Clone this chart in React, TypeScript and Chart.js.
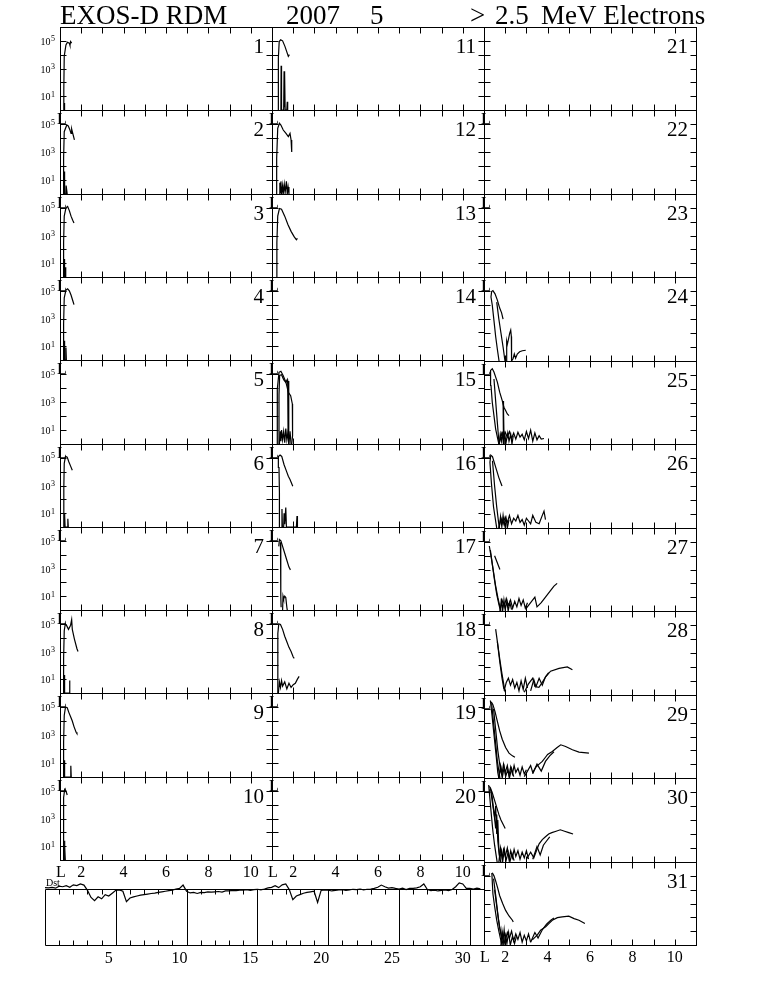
import React, { useEffect, useRef } from "react";
import { Chart, registerables } from "chart.js";
Chart.register(...registerables);

// ---------- data ----------
const titleTexts = ["EXOS-D RDM", "2007", "5", ">", "2.5", "MeV Electrons"];
const lTickValues = [2, 3, 4, 5, 6, 7, 8, 9, 10];
const lLabelValues = [1, 2, 4, 6, 8, 10];
const lLabelTexts = ["L", "2", "4", "6", "8", "10"];
const fluxTickExps = [1, 2, 3, 4, 5];
const fluxLabelExps = [5, 3, 1];
const dstLabelDays = [5, 10, 15, 20, 25, 30];
const dstSeparatorDays = [6, 11, 16, 21, 26, 31];
const dstTickDays = [2,3,4,5,6,7,8,9,10,11,12,13,14,15,16,17,18,19,20,21,22,23,24,25,26,27,28,29,30,31];

// Dst (nT), 4 samples per day, May 1..31
const dstValues = [
  5, 4, 6, 3, 10, 8, 12, 6, 15, 12, 18, 14, -5, -30, -42, -28,
  -35, -20, -25, -15, -5, -3, -8, -45, -32, -28, -25, -22, -20, -18, -16, -15,
  -12, -10, -8, -6, -4, 0, 2, 14, -8, -14, -12, -16, -12, -13, -10, -11,
  -10, -9, -11, -7, -7, -5, -6, -4, -4, -2, -5, -2, -1, -3, 0, 4,
  6, 12, 5, 15, 18, -2, -38, -25, -20, -15, -12, -10, -8, -48, -5, -3,
  -4, -7, -5, -3, -2, -5, -3, -1, -2, 0, -3, -1, 0, 2, 6, 14,
  8, 3, 5, 2, 0, 3, -2, 2, 2, 4, 8, 18, -2, -6, -4, -7,
  -5, -3, -6, -2, 8, 22, 18, 2, 2, 0, 3, 1,
];

// flux traces per day: [L, log10(flux)]
const day01 = [
  [[1.16,0],[1.18,1.5],[1.2,3.9],[1.28,4.7],[1.35,4.9],[1.44,4.83],[1.47,4.67],[1.5,4.95],[1.55,4.83]],
  [[1.2,0],[1.21,0.5],[1.22,0]],
];
const day02 = [
  [[1.16,0],[1.17,2.55],[1.2,4.45],[1.32,4.93],[1.39,4.86],[1.47,4.57],[1.52,4.33],[1.55,4.64],[1.68,3.86]],
  [[1.19,0],[1.2,1.6],[1.22,1.2],[1.23,0],[1.28,0],[1.29,0.6],[1.33,0.6],[1.34,0]],
];
const day03 = [
  [[1.16,0],[1.17,2.5],[1.2,4.4],[1.28,5.0],[1.36,5.1],[1.44,4.8],[1.52,4.4],[1.6,4.1],[1.66,3.9]],
  [[1.18,0],[1.19,1.3],[1.21,1.1],[1.22,0],[1.25,0],[1.26,0.7],[1.28,0]],
];
const day04 = [
  [[1.16,0],[1.17,2.6],[1.2,4.5],[1.28,5.05],[1.36,5.15],[1.44,5.0],[1.52,4.7],[1.6,4.3],[1.66,4.0]],
  [[1.19,0],[1.2,1.4],[1.22,0.8],[1.23,0],[1.27,0],[1.28,0.9],[1.3,0]],
];
const day05: number[][][] = [];
const day06 = [
  [[1.17,0],[1.18,2.8],[1.2,4.6],[1.26,5.1],[1.34,5.05],[1.42,4.7],[1.5,4.4],[1.58,4.1]],
  [[1.2,0],[1.21,1.0],[1.23,0.8],[1.24,0],[1.36,0],[1.37,0.6],[1.39,0]],
];
const day07: number[][][] = [];
const day08 = [
  [[1.16,0],[1.17,2.5],[1.2,4.5],[1.25,5.0],[1.32,4.85],[1.4,4.6],[1.5,4.9],[1.55,5.3],[1.58,4.6],[1.68,3.9],[1.8,3.2],[1.85,3.0]],
  [[1.19,0],[1.2,1.3],[1.22,1.0],[1.23,0],[1.44,0],[1.45,0.9],[1.47,0]],
];
const day09 = [
  [[1.16,0],[1.17,2.5],[1.2,4.4],[1.26,5.0],[1.34,4.95],[1.42,4.6],[1.5,4.3],[1.58,4.0],[1.66,3.6],[1.76,3.2],[1.8,3.1]],
  [[1.19,0],[1.2,1.2],[1.22,0.9],[1.23,0],[1.5,0],[1.51,0.8],[1.53,0]],
];
const day10 = [
  [[1.15,0],[1.16,2.5],[1.18,4.5],[1.22,5.1],[1.28,5.0],[1.34,4.7]],
  [[1.2,0],[1.21,1.4],[1.23,1.0],[1.25,0]],
];
const day11 = [
  [[1.3,0],[1.3,3.76],[1.34,4.95],[1.41,5.07],[1.5,5.0],[1.61,4.6],[1.69,4.24],[1.77,3.88],[1.82,4.0]],
  [[1.42,0],[1.43,3.2],[1.45,0],[1.55,0],[1.57,2.8],[1.59,0.2],[1.6,2.6],[1.62,0],[1.7,0],[1.72,0.6],[1.74,0]],
];
const day12 = [
  [[1.22,0],[1.22,2.55],[1.27,4.69],[1.35,5.05],[1.42,4.93],[1.53,4.57],[1.66,4.33],[1.77,4.1],[1.85,4.33],[1.9,3.86],[1.93,3.0]],
  [[1.35,0],[1.37,0.8],[1.39,0.1],[1.42,0.9],[1.45,0],[1.5,0.6],[1.53,0],[1.58,0.7],[1.62,0.1],[1.68,0.9],[1.72,0],[1.76,0.5],[1.8,0]],
];
const day13 = [
  [[1.22,0],[1.23,2.5],[1.27,4.4],[1.35,4.95],[1.45,4.9],[1.6,4.4],[1.75,3.8],[1.9,3.3],[2.05,2.9],[2.15,2.7],[2.2,2.8]],
];
const day14: number[][][] = [];
const day15 = [
  [[1.25,0],[1.25,3.93],[1.33,5.12],[1.42,5.19],[1.53,4.88],[1.66,4.4],[1.77,3.69],[1.88,3.45],[1.96,2.86],[1.98,2.0],[1.96,0.6],[1.93,0]],
  [[1.32,0],[1.33,3.5],[1.36,4.9],[1.45,4.95],[1.55,4.6],[1.65,4.4],[1.72,4.6],[1.74,4.3],[1.76,0.5],[1.78,4.5],[1.8,0]],
  [[1.35,0],[1.38,0.9],[1.42,0.2],[1.45,1.0],[1.5,0.3],[1.55,0.9],[1.6,0.1],[1.65,1.1],[1.7,0.3],[1.75,0.8],[1.8,0.1],[1.85,0.9],[1.9,0]],
];
const day16 = [
  [[1.34,0],[1.35,2.5],[1.33,4.3],[1.3,5.1],[1.38,5.2],[1.46,5.1],[1.57,4.5],[1.69,4.0],[1.77,3.67],[1.85,3.43],[1.98,2.95]],
  [[1.45,0],[1.47,1.3],[1.49,0],[1.55,0],[1.57,1.0],[1.6,0.2],[1.65,1.4],[1.68,0],[2.15,0],[2.18,0.8],[2.2,0]],
];
const day17 = [
  [[1.32,4.6],[1.35,5.1],[1.42,5.0],[1.5,4.6],[1.6,4.1],[1.7,3.6],[1.8,3.1],[1.87,2.9]],
  [[1.4,4.9],[1.41,2.5],[1.42,1.0],[1.43,0.2]],
  [[1.5,0],[1.52,1.0],[1.55,0.8],[1.6,1.0],[1.65,0.9],[1.7,0.2],[1.72,0]],
];
const day18 = [
  [[1.26,0],[1.27,2.5],[1.28,4.3],[1.32,5.0],[1.4,4.95],[1.5,4.6],[1.6,4.1],[1.7,3.7],[1.8,3.3],[1.9,3.0],[2.0,2.6],[2.05,2.5]],
  [[1.3,0],[1.35,0.8],[1.4,0.4],[1.45,0.9],[1.5,0.5],[1.6,0.8],[1.7,0.3],[1.8,0.7],[1.9,0.4],[2.0,0.6],[2.1,0.7],[2.2,1.0],[2.28,1.2]],
];
const day19: number[][][] = [];
const day20: number[][][] = [];
const day21: number[][][] = [];
const day22: number[][][] = [];
const day23: number[][][] = [];
const day24 = [
  [[1.71,0],[1.63,0.84],[1.55,1.75],[1.47,2.88],[1.39,4.0],[1.33,4.57],[1.36,4.96],[1.42,5.03],[1.52,4.8],[1.63,4.35],[1.74,3.78],[1.83,3.44],[1.9,2.99]],
  [[1.6,4.2],[1.7,3.0],[1.8,2.0],[1.9,1.0],[1.99,0]],
  [[2.05,0],[2.07,1.4],[2.1,1.18],[2.15,1.52],[2.21,1.97],[2.26,2.2],[2.29,1.75],[2.3,0],[2.37,0.16],[2.43,0.5],[2.49,0.2],[2.57,0.5],[2.68,0.66],[2.81,0.73],[2.97,0.77]],
];
const day25 = [
  [[1.7,0],[1.55,1.08],[1.39,3.02],[1.33,4.23],[1.31,5.32],[1.39,5.44],[1.47,5.2],[1.63,4.47],[1.74,3.75],[1.86,3.14],[1.94,2.66],[2.02,2.42],[2.1,2.17],[2.18,2.05]],
  [[1.47,4.7],[1.58,2.5],[1.71,0]],
  [[1.9,3.1],[1.91,0],[1.93,2.5],[1.95,0]],
  [[1.72,0],[1.8,0.8],[1.9,0.4],[2.0,0.85],[2.1,0.5],[2.2,0.9],[2.3,0.4],[2.4,0.8],[2.5,0.35],[2.6,0.85],[2.7,0.5],[2.8,0.7],[2.9,0.3],[3.0,0.9],[3.1,0.4],[3.2,1.0],[3.3,0.2],[3.4,0.8],[3.5,0.3],[3.6,0.6],[3.7,0.35],[3.83,0.4]],
  [[1.72,0],[1.76,0.6],[1.82,0.2],[1.86,0.9],[1.92,0],[1.98,0.7],[2.04,0.1],[2.12,0.8],[2.18,0.2],[2.26,0.7],[2.32,0],[2.38,0.6]],
];
const day26 = [
  [[1.6,0],[1.45,1.5],[1.35,3.2],[1.28,4.7],[1.32,5.2],[1.4,5.1],[1.5,4.6],[1.6,4.1],[1.7,3.6],[1.8,3.2],[1.85,3.0]],
  [[1.4,4.8],[1.5,3.0],[1.6,1.5],[1.72,0]],
  [[1.7,0],[1.8,0.7],[1.9,0.3],[2.0,0.8],[2.1,0.4],[2.2,0.9],[2.3,0.3],[2.4,0.7],[2.5,0.5],[2.6,0.9],[2.7,0.4],[2.8,0.6],[2.9,0.2],[3.0,0.7],[3.1,0.5],[3.2,0.3],[3.3,0.9],[3.45,0.4],[3.6,0.3],[3.75,0.9],[3.83,1.2],[3.9,0.6]],
  [[1.72,0],[1.78,0.8],[1.84,0.1],[1.9,0.9],[1.96,0.2],[2.04,0.7],[2.1,0],[2.18,0.6]],
];
const day27 = [
  [[1.25,4.7],[1.35,3.8],[1.45,2.8],[1.55,1.8],[1.65,1.0],[1.75,0.3],[1.8,0]],
  [[1.5,4.0],[1.6,3.6],[1.7,3.2],[1.75,3.0]],
  [[1.3,4.4],[1.4,3.3],[1.5,2.2],[1.6,1.2],[1.7,0.5],[1.78,0]],
  [[1.75,0],[1.85,0.8],[1.95,0.3],[2.05,0.9],[2.15,0.4],[2.25,0.8],[2.35,0.2],[2.45,0.7],[2.55,0.3],[2.65,0.9],[2.75,0.4],[2.85,0.8],[2.95,0.2],[3.05,0.6]],
  [[1.78,0.1],[1.82,0.9],[1.88,0],[1.94,0.8],[2.0,0.1],[2.08,0.7],[2.14,0],[2.22,0.6],[2.3,0.1]],
  [[3.0,0.2],[3.2,0.6],[3.4,1.0],[3.5,0.3],[3.7,0.6],[3.9,1.0],[4.1,1.4],[4.3,1.8],[4.45,2.0]],
];
const day28 = [
  [[1.55,4.7],[1.65,3.6],[1.75,2.5],[1.85,1.5],[1.95,0.6],[2.0,0.2]],
  [[1.63,3.8],[1.75,2.3],[1.85,1.2],[1.94,0.4]],
  [[1.95,0.3],[2.05,0.9],[2.15,1.2],[2.25,0.7],[2.35,1.1],[2.45,0.5],[2.55,0.9],[2.65,0.3],[2.75,1.0],[2.85,0.4],[2.95,1.2],[3.05,0.5]],
  [[2.9,0.2],[3.1,0.8],[3.3,1.2],[3.4,0.6],[3.59,0.55],[3.75,0.9],[3.91,1.3],[4.14,1.7],[4.54,1.9],[4.93,2.0],[5.17,1.8]],
  [[3.2,0.3],[3.35,1.1],[3.45,0.6],[3.6,1.2],[3.75,0.7],[3.9,1.3],[4.05,1.6]],
];
const day29 = [
  [[1.34,5.5],[1.42,5.3],[1.52,4.8],[1.63,4.1],[1.74,3.4],[1.86,2.8],[2.02,2.2],[2.18,1.8],[2.34,1.6],[2.46,1.5]],
  [[1.36,5.4],[1.45,4.0],[1.55,2.5],[1.63,1.2],[1.7,0.5],[1.75,0]],
  [[1.45,5.0],[1.55,3.5],[1.65,2.0],[1.75,0.9],[1.85,0.2]],
  [[1.3,5.6],[1.38,4.5],[1.48,3.0],[1.58,1.5],[1.65,0.4],[1.7,0]],
  [[1.7,0],[1.78,0.9],[1.85,0.3],[1.92,1.0],[2.0,0.4],[2.1,0.9],[2.18,0.2],[2.26,0.8],[2.34,0.3],[2.42,0.9],[2.5,0.4],[2.6,0.7],[2.7,0.2],[2.8,0.8],[2.9,0.3],[3.0,0.6]],
  [[1.72,0.2],[1.8,0.7],[1.86,0],[1.95,0.8],[2.02,0.1],[2.12,0.6],[2.2,0],[2.3,0.7],[2.4,0.1]],
  [[2.9,0.1],[3.05,0.5],[3.2,0.9],[3.3,0.4],[3.45,0.8],[3.6,1.0],[3.75,1.2],[3.9,1.5],[4.0,1.7],[4.22,1.92],[4.45,2.2],[4.62,2.4],[4.85,2.28],[5.17,2.04],[5.48,1.87],[5.95,1.8]],
  [[3.3,0.3],[3.5,1.0],[3.7,0.5],[3.9,1.2],[4.1,1.6],[4.3,1.9]],
];
const day30 = [
  [[1.25,5.4],[1.3,5.3],[1.4,4.9],[1.5,4.4],[1.6,3.9],[1.7,3.4],[1.8,3.0],[1.9,2.7],[2.0,2.4]],
  [[1.22,5.5],[1.28,4.5],[1.35,3.3],[1.42,2.2],[1.5,1.2],[1.58,0.4],[1.62,0]],
  [[1.3,5.3],[1.4,4.2],[1.5,3.2],[1.55,4.0],[1.6,2.0],[1.65,3.0],[1.7,1.0],[1.75,0.2],[1.8,0]],
  [[1.35,5.1],[1.45,3.8],[1.55,2.4],[1.6,3.4],[1.65,1.5],[1.72,0.5],[1.78,0]],
  [[1.7,0],[1.78,1.0],[1.85,0.3],[1.92,0.9],[2.0,0.4],[2.1,1.0],[2.18,0.2],[2.26,0.8],[2.34,0.3],[2.42,0.9],[2.5,0.4],[2.6,0.8],[2.7,0.2],[2.8,0.7],[2.9,0.3],[3.0,0.8],[3.1,0.2]],
  [[1.74,0.2],[1.82,0.8],[1.88,0],[1.96,0.9],[2.04,0.1],[2.14,0.7],[2.22,0],[2.32,0.6],[2.42,0.1]],
  [[3.0,0.2],[3.2,0.7],[3.35,0.3],[3.5,0.9],[3.6,1.3],[3.75,1.6],[3.9,1.8],[4.05,2.0],[4.2,2.1],[4.4,2.2],[4.6,2.3],[4.8,2.2],[5.0,2.1],[5.2,2.0]],
  [[3.3,0.2],[3.5,1.1],[3.65,0.5],[3.8,1.2],[3.95,1.5],[4.1,1.8]],
];
const day31 = [
  [[1.39,5.22],[1.47,5.0],[1.55,4.63],[1.65,4.1],[1.74,3.56],[1.88,3.0],[2.02,2.5],[2.18,2.1],[2.34,1.79],[2.38,1.67]],
  [[1.37,5.2],[1.42,3.7],[1.5,2.8],[1.6,1.8],[1.7,1.0],[1.8,0.3],[1.85,0]],
  [[1.45,4.8],[1.55,3.6],[1.67,2.0],[1.75,1.2],[1.85,0.4]],
  [[1.5,4.0],[1.6,2.8],[1.72,1.4],[1.82,0.6],[1.9,0]],
  [[1.8,0],[1.85,1.0],[1.9,0.4],[1.95,1.1],[2.0,0.3],[2.1,0.9],[2.2,0.5],[2.3,1.0],[2.4,0.3],[2.5,0.8],[2.6,0.4],[2.7,0.9],[2.8,0.2],[2.9,0.7],[3.0,0.3],[3.1,0.8],[3.2,0.2]],
  [[1.82,0.2],[1.88,0.8],[1.94,0],[2.02,0.7],[2.08,0.1],[2.16,0.9],[2.24,0],[2.34,0.6],[2.44,0.1],[2.54,0.7]],
  [[3.28,0.37],[3.52,0.73],[3.67,1.08],[3.91,1.32],[4.07,1.56],[4.22,1.79],[4.46,1.98],[4.69,2.03],[5.0,2.08],[5.25,1.91],[5.48,1.79],[5.76,1.56]],
  [[3.2,0.2],[3.4,0.9],[3.55,0.5],[3.75,1.1],[3.95,1.5],[4.15,1.8],[4.3,1.95]],
];

const allDays = [
  day01, day02, day03, day04, day05, day06, day07, day08, day09, day10,
  day11, day12, day13, day14, day15, day16, day17, day18, day19, day20,
  day21, day22, day23, day24, day25, day26, day27, day28, day29, day30, day31,
];

// ---------- layout ----------
const FONT = "'Liberation Serif', 'Times New Roman', serif";
const COL_LEFT = [60, 272, 484];
const COL_W = 212;
const TOP0 = 27;
const ROW_STEP = [83.3, 83.3, 83.45];
const PAD = 32;
const TICK = 6;
const LINE_W = 1.2;
const rowTop = (col: number, r: number) => Math.round(TOP0 + r * ROW_STEP[col]);
const DST_BOX = { left: 45, right: 484, top: 889, bottom: 945 };
const TITLE_X = [60, 286, 370, 470, 495, 541];

function Title() {
  const ref = useRef<HTMLCanvasElement>(null);
  useEffect(() => {
    const ctx = ref.current!.getContext("2d")!;
    ctx.clearRect(0, 0, 761, 30);
    ctx.fillStyle = "#000";
    ctx.font = `27px ${FONT}`;
    ctx.textBaseline = "alphabetic";
    titleTexts.forEach((t, i) => ctx.fillText(t, TITLE_X[i], 24));
  }, []);
  return <canvas ref={ref} width={761} height={30} style={{ position: "absolute", left: 0, top: 0 }} />;
}

type PanelProps = { day: number; traces: number[][][]; col: number; row: number; lastRow: boolean };

function Panel({ day, traces, col, row, lastRow }: PanelProps) {
  const ref = useRef<HTMLCanvasElement>(null);
  const left = COL_LEFT[col];
  const top = rowTop(col, row);
  const bottom = rowTop(col, row + 1);
  const w = COL_W;
  const h = bottom - top;
  useEffect(() => {
    const framePlugin = {
      id: "frame" + day,
      afterDraw(chart: any) {
        const { ctx, chartArea: a, scales } = chart;
        const xs = scales.x;
        const ys = scales.y;
        const L = Math.round(a.left) + 0.5;
        const R = Math.round(a.right) + 0.5;
        const T = Math.round(a.top) + 0.5;
        const B = Math.round(a.bottom) + 0.5;
        ctx.save();
        ctx.strokeStyle = "#000";
        ctx.lineWidth = 1;
        ctx.strokeRect(L, T, R - L, B - T);
        ctx.beginPath();
        lTickValues.forEach((v) => {
          const px = Math.round(xs.getPixelForValue(v)) + 0.5;
          ctx.moveTo(px, T); ctx.lineTo(px, T + TICK);
          ctx.moveTo(px, B); ctx.lineTo(px, B - TICK);
        });
        fluxTickExps.forEach((k) => {
          const py = Math.round(ys.getPixelForValue(Math.pow(10, k))) + 0.5;
          ctx.moveTo(L, py); ctx.lineTo(L + TICK, py);
          ctx.moveTo(R, py); ctx.lineTo(R - TICK, py);
        });
        ctx.stroke();
        ctx.fillStyle = "#000";
        ctx.textBaseline = "alphabetic";
        // day number
        ctx.font = `21px ${FONT}`;
        ctx.textAlign = "right";
        ctx.fillText(String(day), a.right - 8, a.top + 26);
        // y labels
        if (col === 0) {
          fluxLabelExps.forEach((k) => {
            const py = ys.getPixelForValue(Math.pow(10, k));
            ctx.font = `8px ${FONT}`;
            ctx.textAlign = "right";
            const supW = ctx.measureText(String(k)).width;
            ctx.fillText(String(k), a.left - 5, py + 0.5);
            ctx.font = `10px ${FONT}`;
            ctx.fillText("10", a.left - 5 - supW - 0.5, py + 4);
          });
        }
        // top-left L
        if (row > 0) {
          ctx.font = `16px ${FONT}`;
          ctx.textAlign = "left";
          ctx.fillText("L", a.left - 3, a.top + 14);
        }
        // bottom x labels
        if (lastRow) {
          ctx.font = `16px ${FONT}`;
          ctx.textAlign = "center";
          lLabelValues.forEach((v, i) => {
            const px = xs.getPixelForValue(v);
            ctx.fillText(lLabelTexts[i], px + (i === 0 ? 1 : 0), a.bottom + 17);
          });
        }
        ctx.restore();
      },
    };
    const chart = new Chart(ref.current!, {
      type: "line",
      data: {
        datasets: traces.map((t) => ({
          data: t.map(([l, e]) => ({ x: l, y: Math.pow(10, e) })),
          borderColor: "#000",
          borderWidth: LINE_W,
          pointRadius: 0,
          tension: 0,
          fill: false,
        })),
      },
      options: {
        animation: false,
        responsive: false,
        maintainAspectRatio: false,
        events: [],
        layout: { padding: PAD },
        plugins: { legend: { display: false }, tooltip: { enabled: false }, title: { display: false } },
        scales: {
          x: { type: "linear", min: 1, max: 11, display: false },
          y: { type: "logarithmic", min: 1, max: 1e6, display: false },
        },
      } as any,
      plugins: [framePlugin],
    });
    return () => chart.destroy();
  }, []);
  return (
    <canvas
      ref={ref}
      width={w + 2 * PAD}
      height={h + 2 * PAD}
      style={{ position: "absolute", left: left - PAD, top: top - PAD }}
    />
  );
}

function DstPanel() {
  const ref = useRef<HTMLCanvasElement>(null);
  const w = DST_BOX.right - DST_BOX.left;
  const h = DST_BOX.bottom - DST_BOX.top;
  useEffect(() => {
    const dstPlugin = {
      id: "dstFrame",
      afterDraw(chart: any) {
        const { ctx, chartArea: a, scales } = chart;
        const xs = scales.x;
        const L = Math.round(a.left) + 0.5;
        const R = Math.round(a.right) + 0.5;
        const T = Math.round(a.top) + 0.5;
        const B = Math.round(a.bottom) + 0.5;
        ctx.save();
        ctx.strokeStyle = "#000";
        ctx.lineWidth = 1;
        ctx.beginPath();
        ctx.moveTo(L, T); ctx.lineTo(R, T);
        ctx.moveTo(L, T); ctx.lineTo(L, B);
        ctx.moveTo(L, B); ctx.lineTo(R, B);
        dstSeparatorDays.forEach((d) => {
          const px = Math.round(xs.getPixelForValue(d)) + 0.5;
          ctx.moveTo(px, T); ctx.lineTo(px, B);
        });
        dstTickDays.forEach((d) => {
          const px = Math.round(xs.getPixelForValue(d)) + 0.5;
          ctx.moveTo(px, T); ctx.lineTo(px, T + 5);
          ctx.moveTo(px, B); ctx.lineTo(px, B - 5);
        });
        ctx.stroke();
        ctx.fillStyle = "#000";
        ctx.textBaseline = "alphabetic";
        ctx.font = `16px ${FONT}`;
        ctx.textAlign = "center";
        dstLabelDays.forEach((d) => {
          ctx.fillText(String(d), xs.getPixelForValue(d + 0.5), a.bottom + 18);
        });
        ctx.font = `10px ${FONT}`;
        ctx.textAlign = "left";
        ctx.fillText("Dst", a.left + 1, a.top - 3);
        ctx.restore();
      },
    };
    const chart = new Chart(ref.current!, {
      type: "line",
      data: {
        datasets: [
          {
            data: dstValues.map((v, i) => ({ x: 1 + i / 4, y: v })),
            borderColor: "#000",
            borderWidth: LINE_W,
            pointRadius: 0,
            tension: 0,
            fill: false,
            clip: false,
          },
        ],
      },
      options: {
        animation: false,
        responsive: false,
        maintainAspectRatio: false,
        events: [],
        layout: { padding: PAD },
        plugins: { legend: { display: false }, tooltip: { enabled: false }, title: { display: false } },
        scales: {
          x: { type: "linear", min: 1, max: 32, display: false },
          y: { type: "linear", min: -200, max: 0, display: false },
        },
      } as any,
      plugins: [dstPlugin],
    });
    return () => chart.destroy();
  }, []);
  return (
    <canvas
      ref={ref}
      width={w + 2 * PAD}
      height={h + 2 * PAD}
      style={{ position: "absolute", left: DST_BOX.left - PAD, top: DST_BOX.top - PAD }}
    />
  );
}

export default function App() {
  const panels = allDays.map((traces, i) => {
    const day = i + 1;
    const col = day <= 10 ? 0 : day <= 20 ? 1 : 2;
    const row = col === 2 ? day - 21 : (day - 1) % 10;
    const lastRow = col === 2 ? row === 10 : row === 9;
    return <Panel key={day} day={day} traces={traces} col={col} row={row} lastRow={lastRow} />;
  });
  return (
    <div style={{ position: "absolute", left: 0, top: 0, width: 761, height: 984, background: "#fff" }}>
      <Title />
      {panels}
      <DstPanel />
    </div>
  );
}
